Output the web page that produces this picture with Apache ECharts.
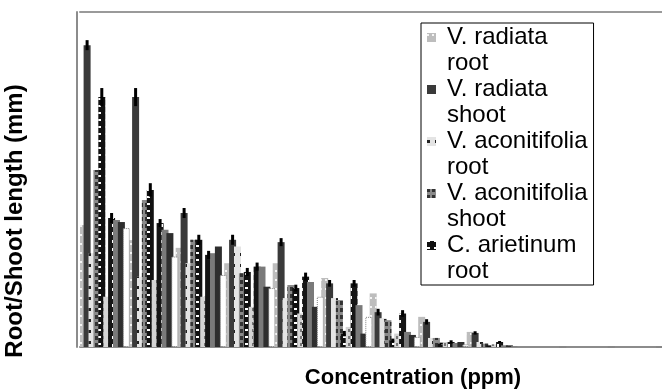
<!DOCTYPE html>
<html>
<head>
<meta charset="utf-8">
<script src="https://cdn.jsdelivr.net/npm/echarts@6/dist/echarts.min.js"></script>
<style>
  html, body { margin: 0; padding: 0; background: #fff; }
  #chart { width: 662px; height: 391px; }
</style>
</head>
<body>
<div id="chart"></div>
<script>
// concentrations (tick labels are hidden in the original)
const concentrations = ['0', '25', '50', '75', '100', '125', '150', '175', '200', '225', '250', '275'];

const seriesNames = [
  'V. radiata root', 'V. radiata shoot', 'V. aconitifolia root', 'V. aconitifolia shoot',
  'C. arietinum root', 'C. arietinum shoot', 'Series 7', 'Series 8', 'Series 9', 'Series 10'
];

const s1 = [36.4, 31.9, 29.6, 25, 25, 20.6, 16, 9, 4.5, 0, 0, 0];
const s2 = [90.1, 74.6, 40, 32, 31.3, 19, 10.4, 7.5, 4.2, 0, 0, 0];
const s3 = [28, 21, 25, 30, 14.6, 14.6, 8.6, 2.7, 1.5, 0, 0, 0];
const s4 = [52.8, 43.9, 32, 22, 18.5, 14, 8, 2.7, 1, 0, 0, 0];
const s5 = [74.6, 46.9, 32, 22.4, 17.6, 4, 2, 1, 0.5, 0, 0, 0];
const s6 = [15, 20, 15, 12, 10, 6, 4, 1.5, 0.8, 0, 0, 0];
const s7 = [38.5, 37, 27.5, 24, 21, 19, 10, 1.5, 1.5, 0, 0, 0];
const s8 = [37.9, 35, 28, 24, 19.4, 12.5, 4.5, 1.2, 0.5, 0, 0, 0];
const s9 = [37.3, 34, 30, 18, 12, 4, 3.6, 1.5, 0.5, 0, 0, 0];
const s10 = [35.5, 27, 21.5, 17.6, 15, 9, 3, 0.8, 0.3, 0, 0, 0];

// error bars (only the dark ones show in the picture)
const err2 = [1.5, 2.7, 1.5, 1.5, 1.2, 1, 1, 0.8, 0.5, 0, 0, 0];
const err5 = [2.7, 2, 1.5, 1.2, 1, 0.8, 0.5, 0.3, 0, 0, 0, 0];
const err7 = [1.5, 1.2, 1.2, 1.2, 1.2, 1, 1, 0.5, 0.3, 0, 0, 0];

const allData = [s1, s2, s3, s4, s5, s6, s7, s8, s9, s10];

const BAR_W = 7;
const GAP = 0.3;           // bars overlap by 30 %
const STRIDE = BAR_W * (1 - GAP);
const TOTAL = allData.length * BAR_W - (allData.length - 1) * BAR_W * GAP;

const styles = [
  { color: '#bdbdbd', decal: { symbol: 'rect', color: 'rgba(255,255,255,0.85)', dashArrayX: [2, 3], dashArrayY: [2, 7], symbolSize: 1 } },
  { color: '#3a3a3a' },
  { color: '#e4e4e4', decal: { symbol: 'rect', color: '#222', dashArrayX: [3, 5], dashArrayY: [3, 8], symbolSize: 1 } },
  { color: '#8a8a8a', decal: { symbol: 'rect', color: '#333', dashArrayX: [3, 2], dashArrayY: [4, 3], symbolSize: 1 } },
  { color: '#111111', decal: { symbol: 'rect', color: '#fff', dashArrayX: [3, 4], dashArrayY: [2, 5], symbolSize: 1 } },
  { color: '#d4d4d4', decal: { symbol: 'rect', color: '#777', dashArrayX: [2, 4], dashArrayY: [3, 4], symbolSize: 1 } },
  { color: '#151515', decal: { symbol: 'rect', color: '#fff', dashArrayX: [2, 5], dashArrayY: [3, 5], symbolSize: 1 } },
  { color: '#7a7a7a' },
  { color: '#2e2e2e' },
  { color: '#ffffff', borderColor: '#808080', borderWidth: 1, borderType: 'dotted' }
];

// legend icon: square near the first text line, gap of 10 px to the text
const legendIcon = 'path://M0,8H9V17H0Z M0,0H0.01V0.01H0Z M15,50H15.01V50.01H15Z';

const frameLine = { show: true, lineStyle: { color: '#8c8c8c', width: 2 } };

function errorSeries(idx, vals, errs) {
  const offset = -TOTAL / 2 + BAR_W / 2 + idx * STRIDE;
  return {
    type: 'custom',
    z: 3,
    silent: true,
    data: vals.map((v, i) => [i, v, errs[i]]),
    renderItem: function (params, api) {
      const e = api.value(2);
      if (!e) return null;
      const v = api.value(1);
      const top = api.coord([api.value(0), v + e]);
      const bot = api.coord([api.value(0), v - e]);
      const x = top[0] + offset;
      return {
        type: 'line',
        shape: { x1: x, y1: top[1], x2: x, y2: bot[1] },
        style: { stroke: '#000', lineWidth: 3 }
      };
    }
  };
}

const chart = echarts.init(document.getElementById('chart'), null, { renderer: 'canvas' });

const barSeries = allData.map((d, i) => ({
  name: seriesNames[i],
  type: 'bar',
  data: d,
  barWidth: BAR_W,
  barGap: '-30%',
  itemStyle: styles[i],
  z: 2
}));

const option = {
  backgroundColor: '#ffffff',
  animation: false,
  textStyle: { fontFamily: 'Liberation Sans, Arial, sans-serif' },
  grid: { left: 80, right: -15, top: 12, bottom: 44 },
  legend: {
    data: seriesNames.slice(0, 5),
    orient: 'vertical',
    left: 421, top: 23,
    padding: [1, 6, 1, 6],
    itemGap: 0,
    itemWidth: 15, itemHeight: 50,
    icon: legendIcon,
    backgroundColor: '#fff',
    borderColor: '#000', borderWidth: 1,
    formatter: function (name) {
      const k = name.lastIndexOf(' ');
      return name.slice(0, k) + '\n' + name.slice(k + 1);
    },
    textStyle: { fontSize: 24, lineHeight: 26, color: '#000', fontFamily: 'Liberation Sans, Arial, sans-serif' }
  },
  xAxis: [
    {
      type: 'category',
      data: concentrations,
      axisLine: frameLine,
      axisTick: { show: false },
      axisLabel: { show: false }
    },
    {
      type: 'category',
      position: 'top',
      data: concentrations,
      axisLine: { show: true, lineStyle: { color: '#9a9a9a', width: 2 } },
      axisTick: { show: false },
      axisLabel: { show: false }
    }
  ],
  yAxis: {
    type: 'value',
    min: 0, max: 100,
    offset: 3,
    axisLine: frameLine,
    axisTick: { show: false },
    axisLabel: { show: false },
    splitLine: { show: false }
  },
  graphic: [
    {
      type: 'text', x: 413, y: 378,
      style: {
        text: 'Concentration (ppm)', fill: '#000',
        font: 'bold 22px "Liberation Sans", Arial, sans-serif',
        textAlign: 'center', textVerticalAlign: 'middle'
      }
    },
    {
      type: 'text', x: 15, y: 221, rotation: Math.PI / 2,
      style: {
        text: 'Root/Shoot length (mm)', fill: '#000',
        font: 'bold 24px "Liberation Sans", Arial, sans-serif',
        textAlign: 'center', textVerticalAlign: 'middle'
      }
    }
  ],
  series: barSeries.concat([
    errorSeries(1, s2, err2),
    errorSeries(4, s5, err5),
    errorSeries(6, s7, err7)
  ])
};

chart.setOption(option);
</script>
</body>
</html>
